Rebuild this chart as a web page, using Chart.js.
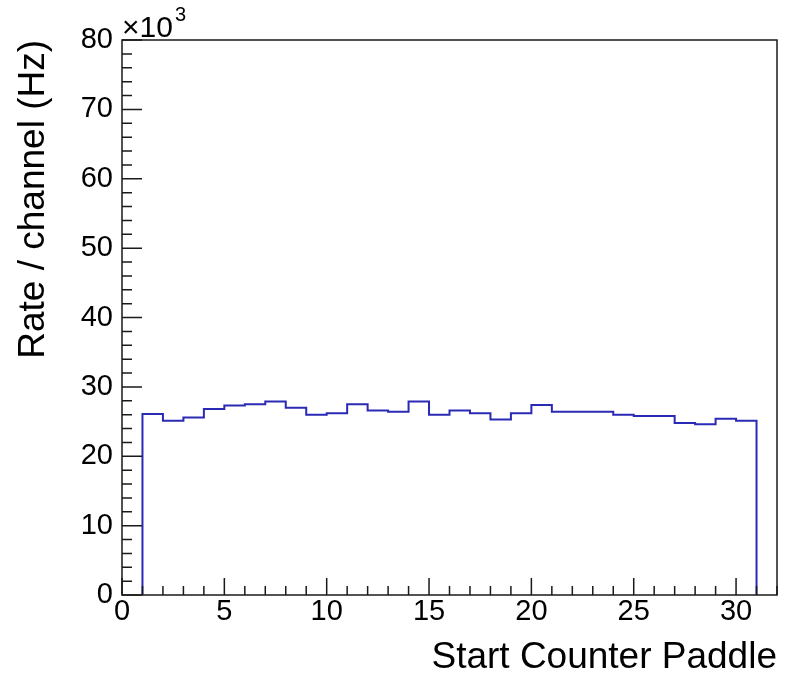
<!DOCTYPE html>
<html>
<head>
<meta charset="utf-8">
<script src="https://cdn.jsdelivr.net/npm/chart.js@4/dist/chart.umd.min.js"></script>
<style>
  html, body { margin: 0; padding: 0; background: #ffffff; }
  canvas { display: block; }
</style>
</head>
<body>
<canvas id="c" width="788" height="681"></canvas>
<script>
// ---- data ----
const binEdges = [1, 2, 3, 4, 5, 6, 7, 8, 9, 10, 11, 12, 13, 14, 15, 16, 17, 18, 19, 20, 21, 22, 23, 24, 25, 26, 27, 28, 29, 30, 31];
const ratesHz = [26100, 25100, 25600, 26800, 27300, 27500, 27900, 27000, 26000, 26200,
                 27500, 26600, 26400, 27900, 26000, 26600, 26200, 25300, 26200, 27400,
                 26400, 26400, 26400, 26000, 25800, 25800, 24800, 24600, 25400, 25100];
const xTickValues = [0, 5, 10, 15, 20, 25, 30];
const yTickValues = [0, 10000, 20000, 30000, 40000, 50000, 60000, 70000, 80000];
const yTickLabels = ['0', '10', '20', '30', '40', '50', '60', '70', '80'];
const xTitle = 'Start Counter Paddle';
const yTitle = 'Rate / channel (Hz)';

// histogram outline points (ROOT style step outline)
const stepPoints = [{x: binEdges[0], y: 0}];
ratesHz.forEach((v, i) => stepPoints.push({x: binEdges[i], y: v}));
stepPoints.push({x: binEdges[binEdges.length - 1], y: ratesHz[ratesHz.length - 1]});
stepPoints.push({x: binEdges[binEdges.length - 1], y: 0});

const FONT = "'Liberation Sans', Arial, Helvetica, sans-serif";

const rootFrame = {
  id: 'rootFrame',
  afterDraw(chart) {
    const {ctx, chartArea: a, scales: {x, y}} = chart;
    ctx.save();
    ctx.strokeStyle = '#1a1a1a';
    ctx.lineWidth = 1.5;
    ctx.beginPath();
    // y ticks (inside), major every 10k, minor every 2k
    for (let v = y.min; v <= y.max + 1e-6; v += 2000) {
      const py = y.getPixelForValue(v);
      const len = (Math.round(v) % 10000 === 0) ? 20 : 10;
      ctx.moveTo(a.left, py);
      ctx.lineTo(a.left + len, py);
    }
    // x ticks (inside), major every 5, minor every 1
    for (let v = x.min; v <= x.max + 1e-6; v += 1) {
      const px = x.getPixelForValue(v);
      const len = (Math.round(v) % 5 === 0) ? 17 : 9;
      ctx.moveTo(px, a.bottom);
      ctx.lineTo(px, a.bottom - len);
    }
    ctx.stroke();
    // frame
    ctx.strokeRect(a.left, a.top, a.right - a.left, a.bottom - a.top);
    // exponent label
    ctx.fillStyle = '#000';
    ctx.textBaseline = 'alphabetic';
    ctx.textAlign = 'left';
    ctx.font = '30px ' + FONT;
    ctx.fillText('\u00d710', a.left, 37);
    const w = ctx.measureText('\u00d710').width;
    ctx.font = '20px ' + FONT;
    ctx.fillText('3', a.left + w + 2, 21);
    ctx.restore();
  }
};

new Chart(document.getElementById('c'), {
  type: 'line',
  data: {
    datasets: [{
      data: stepPoints,
      stepped: 'before',
      borderColor: '#2a2ab4',
      borderWidth: 2,
      pointRadius: 0,
      fill: false,
      tension: 0
    }]
  },
  options: {
    responsive: false,
    animation: false,
    events: [],
    layout: { padding: { left: 0, top: 40, right: 11, bottom: 0 } },
    plugins: { legend: { display: false }, tooltip: { enabled: false } },
    scales: {
      x: {
        type: 'linear',
        min: 0,
        max: 32,
        afterFit: s => { s.height = 86; },
        afterBuildTicks: s => { s.ticks = xTickValues.map(v => ({value: v})); },
        grid: { display: false, drawTicks: false },
        border: { display: false },
        ticks: {
          color: '#000',
          font: { family: FONT, size: 29 },
          padding: 0,
          maxRotation: 0,
          autoSkip: false,
          callback: v => String(v)
        },
        title: {
          display: true,
          text: xTitle,
          align: 'end',
          color: '#000',
          font: { family: FONT, size: 37 },
          padding: { top: 0, bottom: 1 }
        }
      },
      y: {
        type: 'linear',
        min: 0,
        max: 80000,
        afterFit: s => { s.width = 122; },
        afterBuildTicks: s => { s.ticks = yTickValues.map(v => ({value: v})); },
        grid: { display: false, drawTicks: false },
        border: { display: false },
        ticks: {
          color: '#000',
          font: { family: FONT, size: 29 },
          padding: 9,
          autoSkip: false,
          callback: (v) => yTickLabels[yTickValues.indexOf(v)]
        },
        title: {
          display: true,
          text: yTitle,
          align: 'end',
          color: '#000',
          font: { family: FONT, size: 37 },
          padding: { top: 12, bottom: 0 }
        }
      }
    }
  },
  plugins: [rootFrame]
});
</script>
</body>
</html>
